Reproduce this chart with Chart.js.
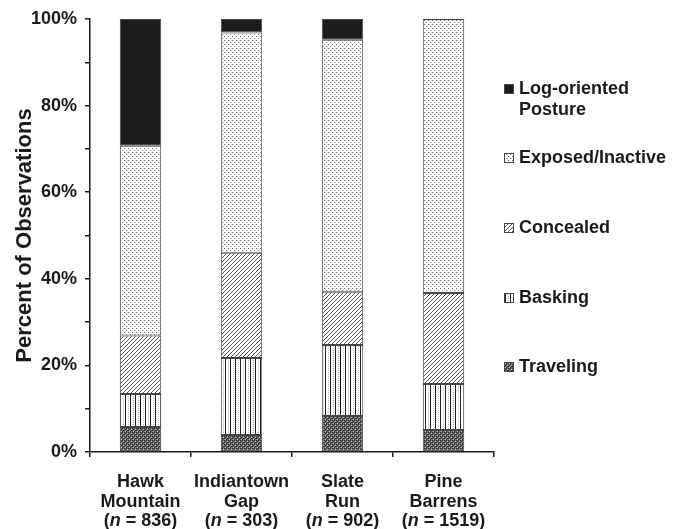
<!DOCTYPE html>
<html>
<head>
<meta charset="utf-8">
<script src="https://cdn.jsdelivr.net/npm/chart.js@4.4.1/dist/chart.umd.min.js"></script>
<style>
  html, body { margin: 0; padding: 0; background: #fff; }
  #wrap { width: 676px; height: 529px; position: relative; }
</style>
</head>
<body>
<div id="wrap"><canvas id="c" width="676" height="529"></canvas></div>
<script>
// ---- Data ----
const siteLines   = [['Hawk', 'Mountain'], ['Indiantown', 'Gap'], ['Slate', 'Run'], ['Pine', 'Barrens']];
const categories  = ['Hawk Mountain', 'Indiantown Gap', 'Slate Run', 'Pine Barrens'];
const sampleSizes = [836, 303, 902, 1519];
const traveling   = [5.8, 3.9, 8.3, 5.1];
const basking     = [7.6, 17.8, 16.4, 10.6];
const concealed   = [13.5, 24.3, 12.3, 21.0];
const exposed     = [43.8, 50.9, 58.2, 63.3];
const logOriented = [29.3, 3.1, 4.8, 0];
const yTickValues = [0, 10, 20, 30, 40, 50, 60, 70, 80, 90, 100];
const legendLabels = [['Log-oriented', 'Posture'], ['Exposed/Inactive'], ['Concealed'], ['Basking'], ['Traveling']];

const FONT = '"Liberation Sans", Arial, Helvetica, sans-serif';
const INK = '#1a1a1a';

// ---- Patterns ----
function makePattern(w, h, draw) {
  const c = document.createElement('canvas');
  c.width = w; c.height = h;
  const g = c.getContext('2d');
  g.fillStyle = '#fff'; g.fillRect(0, 0, w, h);
  draw(g);
  return document.getElementById('c').getContext('2d').createPattern(c, 'repeat');
}
const patSolid = '#1c1c1c';
const patDots = makePattern(4, 4, g => {
  g.fillStyle = '#6a6a6a'; g.fillRect(0, 0, 1, 1);
  g.fillStyle = '#8c8c8c'; g.fillRect(2, 2, 1, 1);
  g.fillStyle = '#e2e2e2'; g.fillRect(1, 0, 1, 1); g.fillRect(3, 2, 1, 1);
});
const patHatch = makePattern(4, 4, g => {
  g.strokeStyle = '#555'; g.lineWidth = 1;
  g.beginPath(); g.moveTo(-1, 5); g.lineTo(5, -1); g.stroke();
  g.beginPath(); g.moveTo(3, 5); g.lineTo(5, 3); g.stroke();
  g.beginPath(); g.moveTo(-1, 1); g.lineTo(1, -1); g.stroke();
});
const patVert = makePattern(5, 2, g => {
  g.fillStyle = '#222'; g.fillRect(0, 0, 1, 2);
  g.fillStyle = '#bbb'; g.fillRect(3, 0, 1, 1);
});
const patCheck = makePattern(4, 4, g => {
  g.fillStyle = '#6e6e6e'; g.fillRect(0, 0, 4, 4);
  g.fillStyle = '#2e2e2e';
  g.fillRect(0, 0, 1, 1); g.fillRect(2, 0, 1, 1); g.fillRect(1, 1, 1, 1); g.fillRect(3, 2, 1, 1);
  g.fillRect(0, 2, 1, 1); g.fillRect(2, 3, 1, 1);
  g.fillStyle = '#c8c8c8'; g.fillRect(3, 1, 1, 1); g.fillRect(1, 3, 1, 1);
});

const seriesFills = [patSolid, patDots, patHatch, patVert, patCheck]; // legend order

function ds(label, data, fill) {
  return {
    label, data, backgroundColor: fill,
    borderColor: '#444', borderWidth: 1, borderSkipped: false,
    barPercentage: 0.41, categoryPercentage: 1.0
  };
}

// ---- Custom drawing: x labels with italic n, legend ----
const customText = {
  id: 'customText',
  afterDraw(chart) {
    const ctx = chart.ctx;
    const xs = chart.scales.x;
    ctx.save();
    ctx.fillStyle = INK;
    ctx.textBaseline = 'middle';
    const bold = 'bold 18px ' + FONT;
    const boldIt = 'italic bold 18px ' + FONT;
    categories.forEach((cat, i) => {
      const cx = xs.getPixelForValue(i);
      const lines = siteLines[i];
      ctx.font = bold; ctx.textAlign = 'center';
      ctx.fillText(lines[0], cx, 482);
      ctx.fillText(lines[1], cx, 502);
      const parts = [['(', bold], ['n', boldIt], [' = ' + sampleSizes[i] + ')', bold]];
      let total = 0;
      parts.forEach(p => { ctx.font = p[1]; total += ctx.measureText(p[0]).width; });
      let x = cx - total / 2;
      ctx.textAlign = 'left';
      parts.forEach(p => { ctx.font = p[1]; ctx.fillText(p[0], x, 521); x += ctx.measureText(p[0]).width; });
    });
    // Legend
    const rows = [89, 158, 228, 298, 367];
    ctx.font = bold; ctx.textAlign = 'left';
    legendLabels.forEach((lab, i) => {
      const y = rows[i];
      ctx.fillStyle = seriesFills[i];
      ctx.fillRect(504, y - 5, 10, 10);
      ctx.strokeStyle = '#444'; ctx.lineWidth = 1;
      ctx.strokeRect(504.5, y - 4.5, 9, 9);
      ctx.fillStyle = INK;
      lab.forEach((t, k) => ctx.fillText(t, 519, y + k * 21));
    });
    ctx.restore();
  }
};

new Chart(document.getElementById('c'), {
  type: 'bar',
  data: {
    labels: categories,
    datasets: [
      ds('Traveling', traveling, patCheck),
      ds('Basking', basking, patVert),
      ds('Concealed', concealed, patHatch),
      ds('Exposed/Inactive', exposed, patDots),
      ds('Log-oriented Posture', logOriented, patSolid)
    ]
  },
  options: {
    responsive: false,
    animation: false,
    layout: { padding: { top: 19, right: 182, left: 0, bottom: 0 } },
    plugins: { legend: { display: false }, tooltip: { enabled: false } },
    scales: {
      x: {
        stacked: true,
        offset: true,
        grid: { display: true, offset: true, drawOnChartArea: false, drawTicks: true, tickLength: 5, color: INK, lineWidth: 1.5 },
        border: { display: true, color: INK, width: 1.5 },
        ticks: { display: false },
        afterFit(s) { s.height = 77; }
      },
      y: {
        stacked: true,
        min: 0, max: 100,
        afterBuildTicks(s) { s.ticks = yTickValues.map(v => ({ value: v })); },
        grid: { display: true, drawOnChartArea: false, drawTicks: true, tickLength: 5, color: INK, lineWidth: 1.5 },
        border: { display: true, color: INK, width: 1.5 },
        ticks: {
          color: INK, padding: 8,
          font: { family: FONT, size: 18, weight: 'bold' },
          callback: v => (v % 20 === 0 ? v + '%' : '')
        },
        title: {
          display: true, text: 'Percent of Observations', color: INK,
          font: { family: FONT, size: 22, weight: 'bold' },
          padding: { top: 12, bottom: 0 }
        },
        afterFit(s) { s.width = 90; }
      }
    }
  },
  plugins: [customText]
});
</script>
</body>
</html>
